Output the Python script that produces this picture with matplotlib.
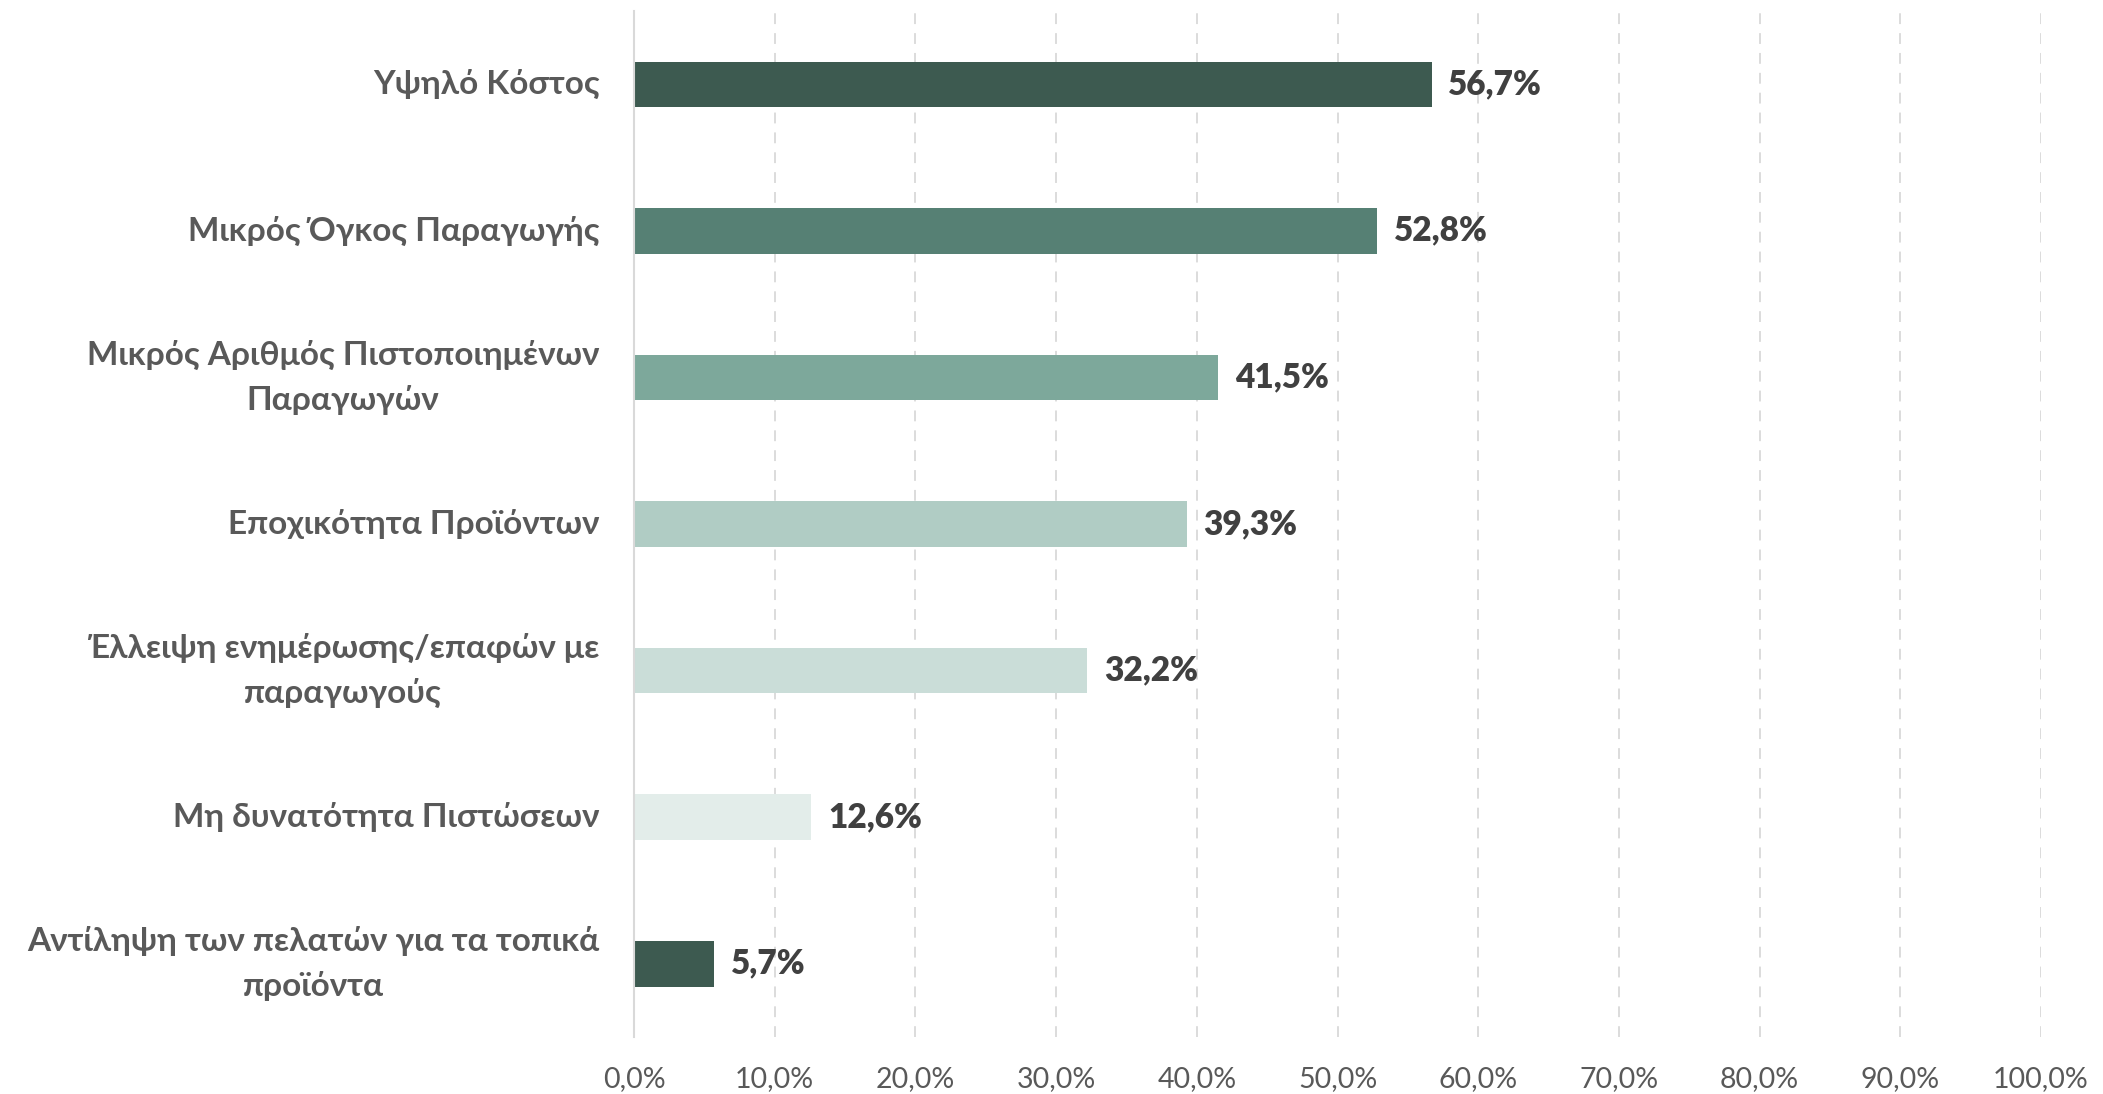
import matplotlib
matplotlib.use("Agg")
import matplotlib.pyplot as plt

categories = [
    "Υψηλό Κόστος",
    "Μικρός Όγκος Παραγωγής",
    "Μικρός Αριθμός Πιστοποιημένων\nΠαραγωγών",
    "Εποχικότητα Προϊόντων",
    "Έλλειψη ενημέρωσης/επαφών με\nπαραγωγούς",
    "Μη δυνατότητα Πιστώσεων",
    "Αντίληψη των πελατών για τα τοπικά\nπροϊόντα",
]
values = [56.7, 52.8, 41.5, 39.3, 32.2, 12.6, 5.7]
colors = ["#3D5A50", "#568074", "#7DA89B", "#B0CCC4", "#CADDD8", "#E3EDEA", "#3D5A50"]
xticks = [0, 10, 20, 30, 40, 50, 60, 70, 80, 90, 100]

plt.rcParams['font.family'] = ['Lato', 'DejaVu Sans']

fig = plt.figure(figsize=(21.03, 10.94), dpi=100)
ax = fig.add_axes([0.3015, 0.052, 0.669, 0.938])

y = list(range(len(categories)))
ax.barh(y, values, height=0.31, color=colors, zorder=3)
ax.set_ylim(len(categories) - 0.5, -0.5)
ax.set_xlim(0, 100)

for yi, v in zip(y, values):
    ax.annotate(f"{v:.1f}%".replace(".", ","), xy=(v, yi), xytext=(12, 0),
                textcoords="offset points", va="center", ha="left",
                fontsize=24, fontweight="heavy", color="#404040")

ax.set_yticks(y)
ax.set_yticklabels(categories, fontsize=24, fontweight="bold", color="#595959",
                   multialignment="center", linespacing=1.6, va="center")
ax.set_xticks(xticks)
ax.set_xticklabels([f"{t:.1f}%".replace(".", ",") for t in xticks], fontsize=20.5, color="#595959")
ax.tick_params(axis="both", length=0)
ax.tick_params(axis="y", pad=25)
ax.tick_params(axis="x", pad=21)

for s in ["top", "right", "bottom"]:
    ax.spines[s].set_visible(False)
ax.spines["left"].set_color("#D9D9D9")
ax.spines["left"].set_linewidth(1.5)
ax.spines["left"].set_zorder(4)

for t in xticks[1:]:
    ax.axvline(t, color="#D9D9D9", linestyle=(0, (6, 5)), linewidth=1.3, zorder=1)

fig.savefig("out.png", dpi=100)
